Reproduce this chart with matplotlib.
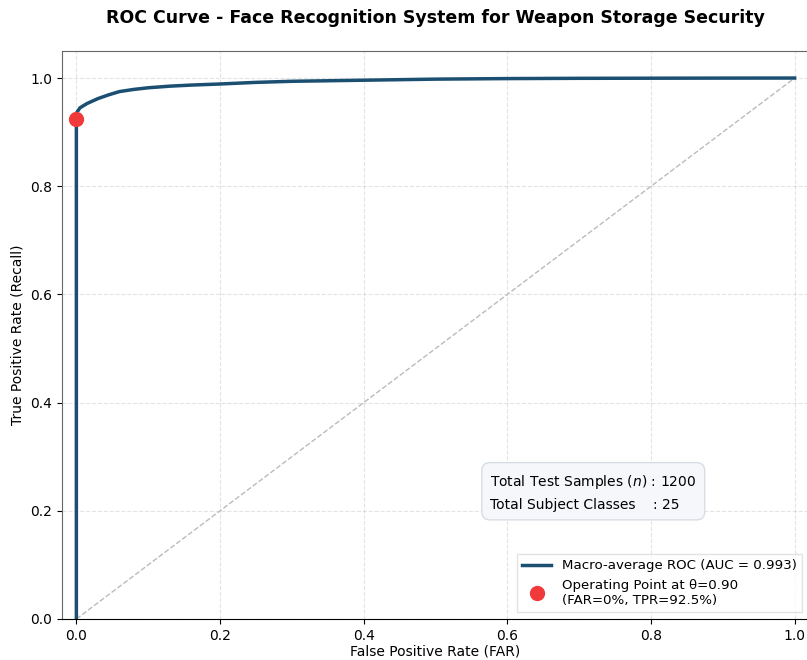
import matplotlib.pyplot as plt

# macro-averaged ROC points
fpr = [0.0, 0.0, 0.0, 0.005, 0.015, 0.03, 0.045, 0.06, 0.08, 0.10, 0.13, 0.16,
       0.20, 0.25, 0.30, 0.40, 0.50, 0.60, 0.70, 0.80, 0.90, 1.0]
tpr = [0.0, 0.925, 0.935, 0.945, 0.953, 0.962, 0.969, 0.975, 0.979, 0.982,
       0.985, 0.987, 0.989, 0.992, 0.994, 0.996, 0.998, 0.999, 0.9995, 0.9997,
       0.9999, 1.0]
auc_valor = 0.993

op_far = 0.0
op_tpr = 0.925
umbral = 0.90

n_muestras = 1200
n_clases = 25

fig = plt.figure(figsize=(8.07, 6.6), dpi=100)
ax = fig.add_axes([62 / 807, 41 / 660, 747 / 807, 568 / 660])

ax.plot([0, 1], [0, 1], linestyle='--', color='#bbbbbb', linewidth=1.0)
ax.plot(fpr, tpr, color='#1b4f72', linewidth=2.5,
        label=f'Macro-average ROC (AUC = {auc_valor:.3f})')
ax.plot(op_far, op_tpr, 'o', color='#f0393a', markersize=10, zorder=5,
        label=f'Operating Point at θ={umbral:.2f}\n(FAR={op_far*100:.0f}%, TPR={op_tpr*100:.1f}%)')

ax.set_xlim(-0.02, 1.02)
ax.set_ylim(0.0, 1.05)
ax.set_xticks([0.0, 0.2, 0.4, 0.6, 0.8, 1.0])
ax.set_yticks([0.0, 0.2, 0.4, 0.6, 0.8, 1.0])
ax.tick_params(labelsize=10)
ax.grid(True, linestyle='--', alpha=0.35)
for lado in ['top', 'left', 'right']:
    ax.spines[lado].set_color('#666666')

ax.set_xlabel('False Positive Rate (FAR)', fontsize=10, labelpad=1)
ax.set_ylabel('True Positive Rate (Recall)', fontsize=10)
ax.set_title('ROC Curve - Face Recognition System for Weapon Storage Security',
             fontsize=12.5, fontweight='bold', pad=20)

texto = (f'Total Test Samples ($n$) : {n_muestras}\n'
         f'Total Subject Classes    : {n_clases}')
ax.text(0.576, 0.27, texto, fontsize=10, va='top', ha='left', linespacing=1.6,
        bbox=dict(boxstyle='round,pad=0.6', facecolor='#f5f7fa',
                  edgecolor='#d8dde5'))

ax.legend(loc='lower right', fontsize=9.6, frameon=True, fancybox=False,
          edgecolor='#dddddd', handlelength=2.2)

plt.savefig('out.png', dpi=100)
